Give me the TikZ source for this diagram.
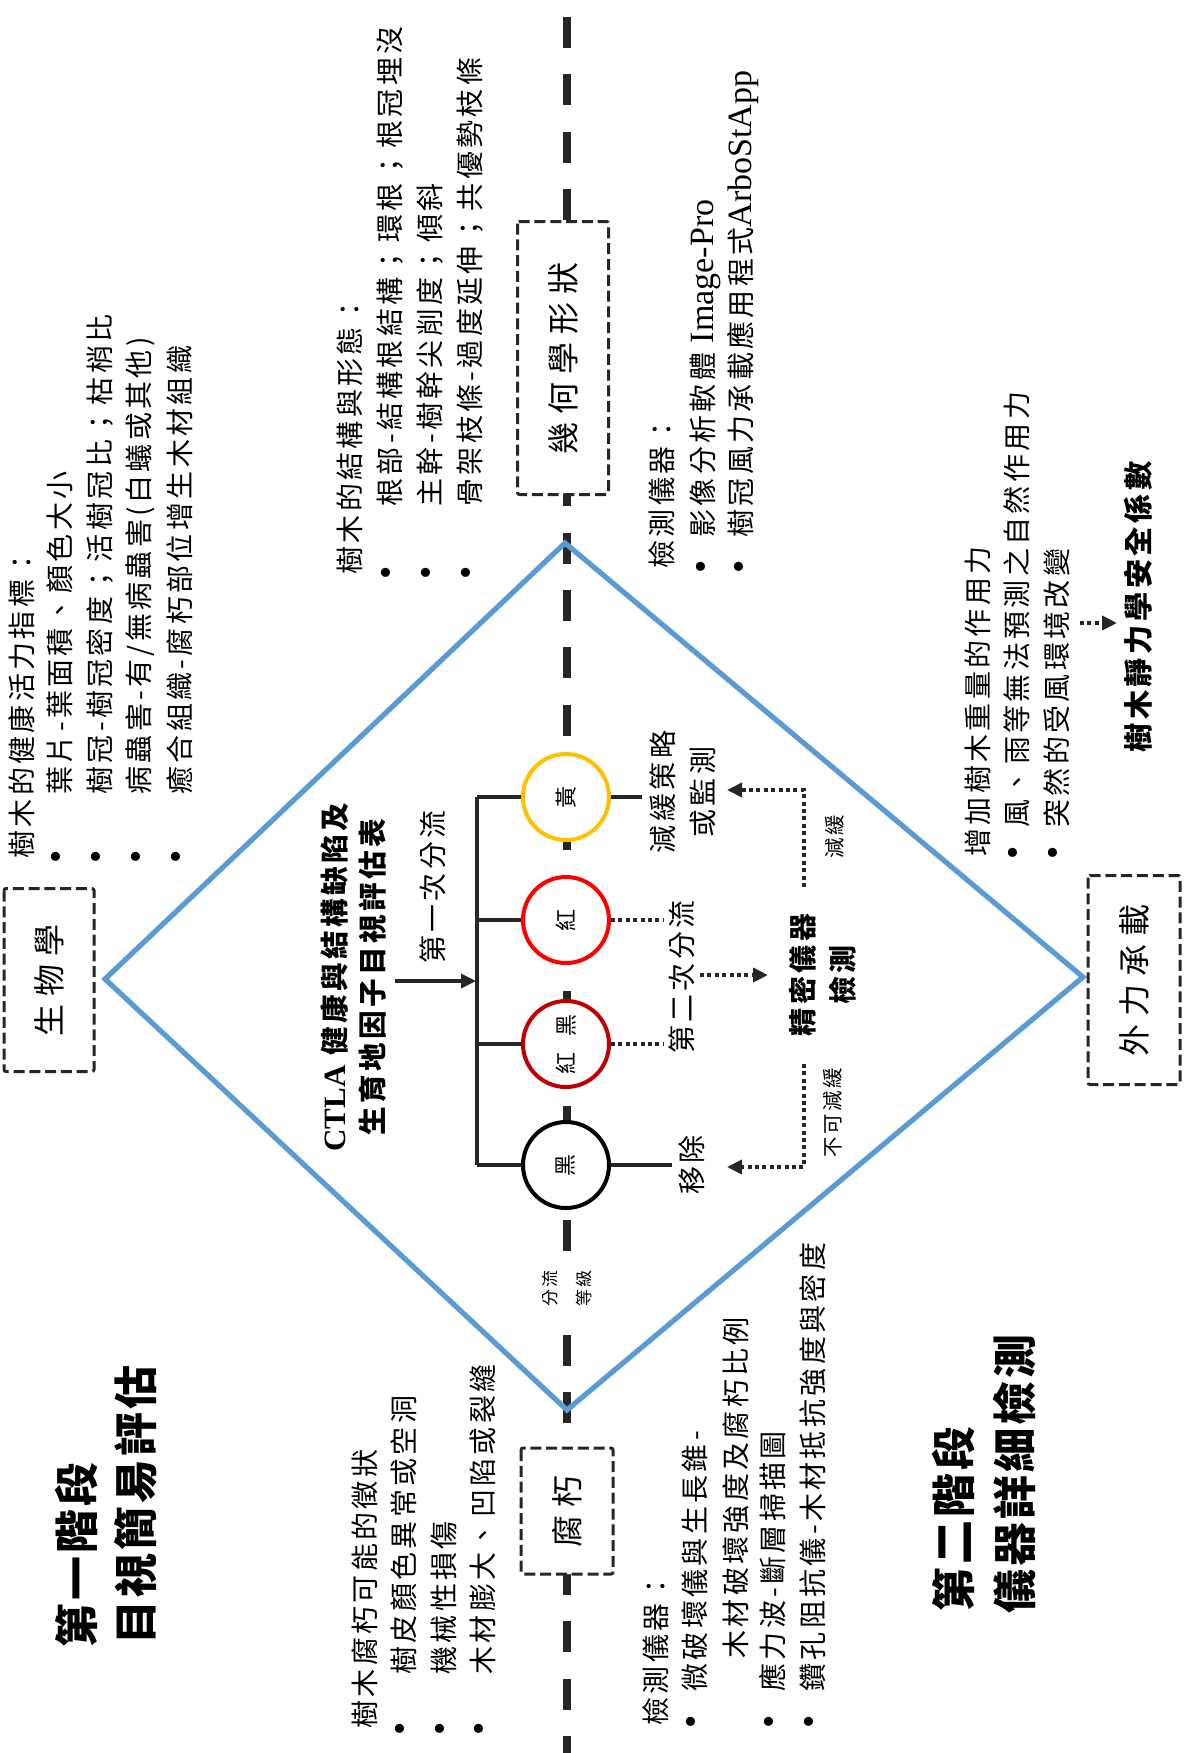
\documentclass[tikz,border=0pt]{standalone}
\usepackage{fontspec}
\usepackage{graphicx}
\usetikzlibrary{arrows.meta}
\newfontfamily\cjk[LetterSpace=12]{Noto Sans CJK TC}
\newfontfamily\cjkbox[LetterSpace=25]{Noto Sans CJK TC}
\newfontfamily\cjkbig[LetterSpace=7]{Noto Sans CJK TC}
\newfontfamily\lat{Liberation Serif}
\definecolor{cyel}{HTML}{FFC000}
\definecolor{cred}{HTML}{FF0000}
\definecolor{cdred}{HTML}{C00000}
\definecolor{cblue}{HTML}{5B9BD5}
\definecolor{cline}{HTML}{262626}
\begin{document}
\begin{tikzpicture}[x=0.5pt,y=-0.5pt,
  txt/.style={rotate=90, inner sep=0pt, anchor=west, font=\cjk\fontsize{14pt}{19pt}\selectfont},
  ctxt/.style={rotate=90, inner sep=0pt, align=center, font=\cjk\fontsize{14pt}{20pt}\selectfont},
  bul/.style={rotate=90, inner sep=0pt, font=\lat\fontsize{19pt}{19pt}\selectfont},
  bigtxt/.style={rotate=90, inner sep=0pt, anchor=west, font=\cjkbig\bfseries\fontsize{22pt}{22pt}\selectfont},
  smalltxt/.style={rotate=90, inner sep=0pt, font=\cjk\fontsize{10.25pt}{12pt}\selectfont},
  dbox/.style={rotate=90, draw=cline, line width=1.5pt, dash pattern=on 5.5pt off 2.4pt, fill=white, rounded corners=1pt, inner sep=0pt, font=\cjkbox\fontsize{16pt}{16pt}\selectfont},
  circ/.style={circle, minimum size=43pt, inner sep=0pt, line width=2pt, fill=white, font=\cjk\fontsize{11pt}{11pt}\selectfont},
  diam/.style={draw=cblue, line width=2.6pt, line join=miter},
  midline/.style={draw=cline, line width=4pt, dash pattern=on 15.5pt off 13.15pt},
  treeline/.style={draw=cline, line width=1.7pt},
  dotline/.style={draw=cline, line width=2pt, dash pattern=on 2pt off 1.7pt},
  arrowtip/.style={-{Triangle[length=7.5pt,width=7pt]}},
]
\useasboundingbox (0,0) rectangle (1184,1753);
\fill[white] (0,0) rectangle (1184,1753);

% central dashed axis
\coordinate (axT) at (567,17);
\coordinate (axB) at (567,1753);
\draw[midline] (axT) -- (axB);

% diamond
\coordinate (dT) at (565,543);
\coordinate (dR) at (1083,977);
\coordinate (dB) at (567,1410);
\coordinate (dL) at (105,979);
\draw[diam] (dT) -- (dR) -- (dB) -- (dL) -- cycle;

% dashed boxes
\node[dbox, minimum width=91.5pt, minimum height=45pt] (bio) at (49,980) {生物學};
\node[dbox, minimum width=104.5pt, minimum height=46pt] (ext) at (1134,980) {外力承載};
\node[dbox, minimum width=136.5pt, minimum height=45.5pt] (geo) at (563,358) {幾何學形狀};
\node[dbox, minimum width=63pt, minimum height=46pt] (rot) at (567,1511) {腐朽};

% circles
\node[circ, draw=cyel] (cY) at (566,797) {\rotatebox{90}{黃}};
\node[circ, draw=cred] (cR) at (566,920) {\rotatebox{90}{紅}};
\node[circ, draw=cdred] (cD) at (566,1044) {\rotatebox{90}{紅\hspace{8pt}黑}};
\node[circ, draw=black] (cK) at (566,1165) {\rotatebox{90}{黑}};

% tree
\coordinate (tY) at (477,797);
\coordinate (tR) at (477,920);
\coordinate (tD) at (477,1044);
\coordinate (tK) at (477,1165);
\draw[treeline] (tY) -- (tK);
\draw[treeline] (tY) -- (cY.west);
\draw[treeline] (tR) -- (cR.west);
\draw[treeline] (tD) -- (cD.west);
\draw[treeline] (tK) -- (cK.west);
\coordinate (aS) at (395,981);
\coordinate (aE) at (476,981);
\draw[treeline, arrowtip] (aS) -- (aE);

% lines right of circles
\coordinate (eY) at (642,797);
\coordinate (eR) at (663,920);
\coordinate (eD) at (663,1044);
\coordinate (eK) at (672,1165);
\draw[treeline] (cY.east) -- (eY);
\draw[dotline] (cR.east) -- (eR);
\draw[dotline] (cD.east) -- (eD);
\draw[treeline] (cK.east) -- (eK);

% dotted arrows
\coordinate (mS) at (700,975);
\coordinate (mE) at (768,975);
\draw[dotline, arrowtip] (mS) -- (mE);
\coordinate (uS) at (804,887);
\coordinate (uC) at (804,790);
\coordinate (uE) at (727,790);
\draw[dotline, arrowtip] (uS) -- (uC) -- (uE);
\coordinate (lS) at (804,1064);
\coordinate (lC) at (804,1167);
\coordinate (lE) at (727,1167);
\draw[dotline, arrowtip] (lS) -- (lC) -- (lE);
\coordinate (rS) at (1080,623);
\coordinate (rE) at (1117,623);
\draw[dotline, arrowtip] (rS) -- (rE);

% centre texts
\node[ctxt, font=\cjk\bfseries\fontsize{14.3pt}{19pt}\selectfont] (ctla) at (354,977) {{\lat\bfseries\fontsize{15.5pt}{19pt}\selectfont CTLA} 健康與結構缺陷及\\生育地因子目視評估表};
\node[ctxt] (split1) at (433,887) {第一次分流};
\node[ctxt] (mitig) at (683,792) {減緩策略\\或監測};
\node[ctxt] (split2) at (682,977) {第二次分流};
\node[ctxt, font=\cjk\bfseries\fontsize{14pt}{20pt}\selectfont] (prec) at (823,975) {精密儀器\\檢測};
\node[smalltxt] (lab1) at (835,837) {減緩};
\node[smalltxt] (lab2) at (833,1113) {不可減緩};
\node[ctxt] (remove) at (692,1165) {移除};
\node[smalltxt, fill=white, inner sep=3pt, align=center, font=\cjk\fontsize{8.5pt}{17pt}\selectfont] (grade) at (567,1288) {分流\\等級};
\node[ctxt, font=\cjk\bfseries\fontsize{14.6pt}{19pt}\selectfont] (fos) at (1138,607) {樹木靜力學安全係數};

% stage titles
\node[bigtxt] (s1a) at (77,1648) {第一階段};
\node[bigtxt] (s1b) at (136,1645) {目視簡易評估};
\node[bigtxt] (s2a) at (954,1612) {第二階段};
\node[bigtxt] (s2b) at (1015,1614) {儀器詳細檢測};

% block 1: biology
\node[txt] (h1) at (22,859) {樹木的健康活力指標：};
\node[bul] (b1a) at (60,857) {•};
\node[bul] (b1b) at (100,857) {•};
\node[bul] (b1c) at (140,857) {•};
\node[bul] (b1d) at (180,857) {•};
\node[txt] (h1a) at (60,795) {葉片-葉面積、顏色大小};
\node[txt] (h1b) at (100,795) {樹冠-樹冠密度；活樹冠比；枯梢比};
\node[txt] (h1c) at (140,795) {病蟲害-有/無病蟲害(白蟻或其他)};
\node[txt] (h1d) at (180,795) {癒合組織-腐朽部位增生木材組織};

% block 2: structure
\node[txt] (h2) at (350,575) {樹木的結構與形態：};
\node[bul] (b2a) at (390,573) {•};
\node[bul] (b2b) at (430,573) {•};
\node[bul] (b2c) at (470,573) {•};
\node[txt] (h2a) at (390,507) {根部-結構根結構；環根；根冠埋沒};
\node[txt] (h2b) at (430,507) {主幹-樹幹尖削度；傾斜};
\node[txt] (h2c) at (470,507) {骨架枝條-過度延伸；共優勢枝條};

% block 3: instruments (geometry)
\node[txt] (h3) at (662,569) {檢測儀器：};
\node[bul] (b3a) at (705,567) {•};
\node[bul] (b3b) at (743,567) {•};
\node[txt] (h3a) at (705,538) {影像分析軟體 {\lat\fontsize{17pt}{17pt}\selectfont Image-Pro}};
\node[txt] (h3b) at (743,538) {樹冠風力承載應用程式{\lat\fontsize{17pt}{17pt}\selectfont ArboStApp}};

% block 4: external load
\node[txt] (h4) at (978,857) {增加樹木重量的作用力};
\node[bul] (b4a) at (1017,853) {•};
\node[bul] (b4b) at (1057,853) {•};
\node[txt] (h4a) at (1017,828) {風、雨等無法預測之自然作用力};
\node[txt] (h4b) at (1057,828) {突然的受風環境改變};

% block 5: decay
\node[txt] (h5) at (365,1729) {樹木腐朽可能的徵狀};
\node[bul] (b5a) at (404,1729) {•};
\node[bul] (b5b) at (444,1729) {•};
\node[bul] (b5c) at (483,1729) {•};
\node[txt] (h5a) at (404,1675) {樹皮顏色異常或空洞};
\node[txt] (h5b) at (444,1675) {機械性損傷};
\node[txt] (h5c) at (483,1675) {木材膨大、凹陷或裂縫};

% block 6: instruments (decay)
\node[txt] (h6) at (656,1726) {檢測儀器：};
\node[bul] (b6a) at (695,1722) {•};
\node[bul] (b6b) at (773,1722) {•};
\node[bul] (b6c) at (813,1722) {•};
\node[txt] (h6a) at (695,1692) {微破壞儀與生長錐-};
\node[txt] (h6b) at (736,1659) {木材破壞強度及腐朽比例};
\node[txt] (h6c) at (773,1692) {應力波-斷層掃描圖};
\node[txt] (h6d) at (813,1692) {鑽孔阻抗儀-木材抵抗強度與密度};
\end{tikzpicture}
\end{document}
